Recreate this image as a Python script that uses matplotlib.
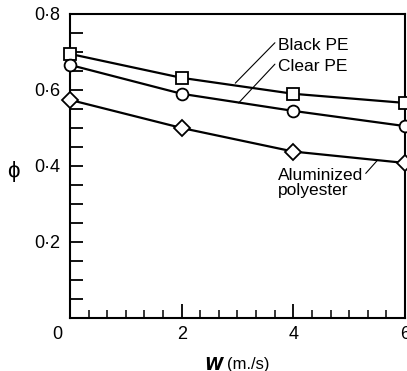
import matplotlib.pyplot as plt
from matplotlib.ticker import MultipleLocator, FixedLocator

plt.rcParams['font.family'] = ['Liberation Sans', 'DejaVu Sans']

W = [0, 2, 4, 6]
black_pe = [0.695, 0.632, 0.590, 0.566]
clear_pe = [0.666, 0.590, 0.545, 0.505]
aluminized = [0.574, 0.500, 0.438, 0.408]

yticks = [0.2, 0.4, 0.6, 0.8]
ylabels = ['0·2', '0·4', '0·6', '0·8']
xticks = [2, 4, 6]
xlabels = ['2', '4', '6']

fig = plt.figure(figsize=(4.07, 3.71), dpi=100)
ax = fig.add_axes([70/407, 53/371, 335/407, 304/371])

for vals, mk, ms in [(black_pe, 's', 8.5), (clear_pe, 'o', 8.5), (aluminized, 'D', 8)]:
    ax.plot(W, vals, color='black', lw=1.6, marker=mk, ms=ms,
            markerfacecolor='white', markeredgecolor='black', mew=1.3,
            clip_on=False, zorder=3)

ax.set_xlim(0, 6)
ax.set_ylim(0, 0.8)

ax.yaxis.set_major_locator(FixedLocator(yticks))
ax.set_yticklabels(ylabels, fontsize=13)
ax.yaxis.set_minor_locator(MultipleLocator(0.05))
ax.xaxis.set_major_locator(FixedLocator(xticks))
ax.set_xticklabels(xlabels, fontsize=13)
ax.xaxis.set_minor_locator(MultipleLocator(1/3))

ax.tick_params(axis='y', which='both', direction='in', length=9, width=1.3, pad=7)
ax.tick_params(axis='x', which='major', direction='in', length=10, width=1.3, pad=6)
ax.tick_params(axis='x', which='minor', direction='in', length=6, width=1.1)
for s in ax.spines.values():
    s.set_linewidth(1.5)

ax.text(-0.23, -0.022, '0', fontsize=13, ha='center', va='top')
fig.text(13/407, 1 - 172/371, 'ϕ', fontsize=16, ha='center', va='center')
fig.text(214/407, 1 - 364/371, r'$\boldsymbol{W}$', fontsize=12, ha='center', va='center')
fig.text(227/407, 1 - 364/371, '(m./s)', fontsize=12, ha='left', va='center')

# annotations with leader lines
lead = dict(arrowstyle='-', lw=0.8, color='black', shrinkA=0, shrinkB=0)
ax.annotate('Black PE', xy=(2.96, 0.618), xytext=(3.72, 0.718),
            fontsize=12.5, ha='left', va='center',
            arrowprops=dict(lead, relpos=(0.0, 0.85)))
ax.annotate('Clear PE', xy=(3.02, 0.566), xytext=(3.72, 0.662),
            fontsize=12.5, ha='left', va='center',
            arrowprops=dict(lead, relpos=(0.0, 0.85)))
ax.annotate('Aluminized\npolyester', xy=(5.5, 0.414), xytext=(3.72, 0.355),
            fontsize=12.5, ha='left', va='center', linespacing=1.0,
            arrowprops=dict(lead, relpos=(1.0, 0.72)))

fig.savefig('out.png', dpi=100)
